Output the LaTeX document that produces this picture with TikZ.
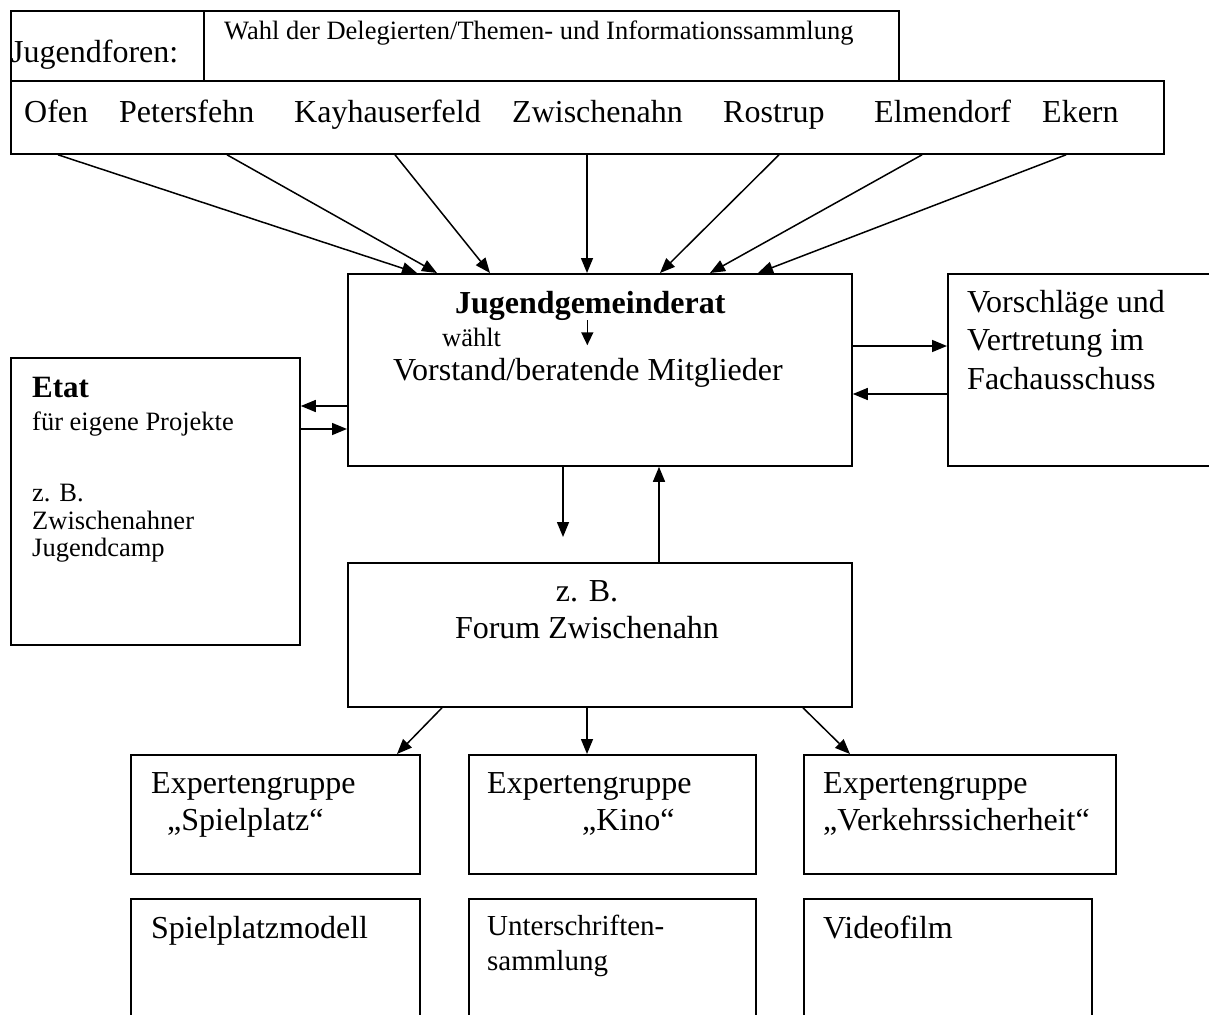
\documentclass[tikz,border=0pt]{standalone}
\usepackage{fontspec}
\setmainfont{Liberation Serif}
\usetikzlibrary{arrows.meta}

\begin{document}
\begin{tikzpicture}[x=1pt, y=-1pt, >={Triangle[length=15pt,width=12pt]},
    box/.style={draw, line width=1.8pt, inner sep=0pt, anchor=north west},
    txt/.style={anchor=base west, inner sep=0pt, font=\fontsize{32}{38}\selectfont},
    small/.style={anchor=base west, inner sep=0pt, font=\fontsize{26.5}{31}\selectfont},
    bold/.style={anchor=base west, inner sep=0pt, font=\fontsize{32}{38}\selectfont\bfseries},
    arr/.style={->, line width=1.5pt}]
    \useasboundingbox (0,0) rectangle (1209,1014);
    \clip (0,0) rectangle (1209,1014);

    % boxes
    \node[box, minimum width=193pt, minimum height=70pt] (foren) at (10,10) {};
    \node[box, minimum width=695pt, minimum height=70pt] (wahl) at (203,10) {};
    \node[box, minimum width=1153pt, minimum height=73pt] (orte) at (10,80) {};
    \node[box, minimum width=504pt, minimum height=192pt] (jgr) at (347,273) {};
    \node[box, minimum width=280pt, minimum height=192pt] (vorschlag) at (947,273) {};
    \node[box, minimum width=289pt, minimum height=287pt] (etat) at (10,357) {};
    \node[box, minimum width=504pt, minimum height=144pt] (forum) at (347,562) {};
    \node[box, minimum width=289pt, minimum height=119pt] (expA) at (130,754) {};
    \node[box, minimum width=287pt, minimum height=119pt] (expB) at (468,754) {};
    \node[box, minimum width=312pt, minimum height=119pt] (expC) at (803,754) {};
    \node[box, minimum width=289pt, minimum height=140pt] (ergA) at (130,898) {};
    \node[box, minimum width=287pt, minimum height=140pt] (ergB) at (468,898) {};
    \node[box, minimum width=288pt, minimum height=140pt] (ergC) at (803,898) {};

    % texts
    \node[txt] (jforen) at (11,63) {Jugendforen:};
    \node[small] (wahltxt) at (224,40) {Wahl der Delegierten/Themen- und Informationssammlung};
    \foreach \x/\name/\ort in {24/ofen/Ofen, 119/petersfehn/Petersfehn, 294/kayhauserfeld/Kayhauserfeld,
        512/zwischenahn/Zwischenahn, 723/rostrup/Rostrup, 874/elmendorf/Elmendorf, 1042/ekern/Ekern}
        \node[txt] (\name) at (\x,122) {\ort};

    \node[bold] (jgrtitel) at (455,313) {Jugendgemeinderat};
    \node[small] (waehlt) at (442,346) {wählt};
    \node[txt] (vorstand) at (393,380) {Vorstand/beratende Mitglieder};

    \node[txt] (vorschlag1) at (967,312) {Vorschläge und};
    \node[txt] (vorschlag2) at (967,350.5) {Vertretung im};
    \node[txt] (vorschlag3) at (967,389) {Fachausschuss};

    \node[bold, font=\fontsize{31}{36}\selectfont\bfseries] (etattitel) at (32,397) {Etat};
    \node[small] (etatzweck) at (32,430) {für eigene Projekte};
    \node[small] (etatbsp1) at (32,501) {z. B.};
    \node[small] (etatbsp2) at (32,529) {Zwischenahner};
    \node[small] (etatbsp3) at (32,556) {Jugendcamp};

    \node[txt, anchor=base] (forumbsp) at (587,601) {z. B.};
    \node[txt, anchor=base] (forumname) at (587,638) {Forum Zwischenahn};

    \node[txt] (expAtitel) at (151,793) {Expertengruppe};
    \node[txt] (expAthema) at (167,830) {„Spielplatz“};
    \node[txt] (expBtitel) at (487,793) {Expertengruppe};
    \node[txt] (expBthema) at (582,830) {„Kino“};
    \node[txt] (expCtitel) at (823,793) {Expertengruppe};
    \node[txt] (expCthema) at (823,830) {„Verkehrssicherheit“};

    \node[txt] (ergAtxt) at (151,938) {Spielplatzmodell};
    \node[small, font=\fontsize{29}{35}\selectfont] (ergBtxt1) at (487,935) {Unterschriften-};
    \node[small, font=\fontsize{29}{35}\selectfont] (ergBtxt2) at (487,970) {sammlung};
    \node[txt] (ergCtxt) at (823,938) {Videofilm};

    % arrows
    \foreach \s/\e in {48/70, 217/90, 385/143, 577/240, 769/313, 912/363, 1056/411}
        \draw[arr] ([xshift=\s pt]orte.south west) -- ([xshift=\e pt]jgr.north west);
    \draw[arr, >={Triangle[length=13pt,width=12pt]}] ([xshift=-3pt]jgrtitel.south) -- ++(0,25);

    \draw[arr] ([yshift=-133pt]jgr.north west) -- ([yshift=-49pt]etat.north east);
    \draw[arr] ([yshift=-72pt]etat.north east) -- ([yshift=-156pt]jgr.north west);
    \draw[arr] ([yshift=-73pt]jgr.north east) -- ([yshift=-73pt]vorschlag.north west);
    \draw[arr] ([yshift=-121pt]vorschlag.north west) -- ([yshift=-121pt]jgr.north east);

    \draw[arr] ([xshift=216pt]jgr.south west) -- ([xshift=216pt,yshift=25pt]forum.north west);
    \draw[arr] ([xshift=312pt]forum.north west) -- ([xshift=312pt]jgr.south west);

    \draw[arr] ([xshift=95pt]forum.south west) -- ([xshift=267pt]expA.north west);
    \draw[arr] ([xshift=240pt]forum.south west) -- ([xshift=119pt]expB.north west);
    \draw[arr] ([xshift=456pt]forum.south west) -- ([xshift=47pt]expC.north west);
\end{tikzpicture}
\end{document}
